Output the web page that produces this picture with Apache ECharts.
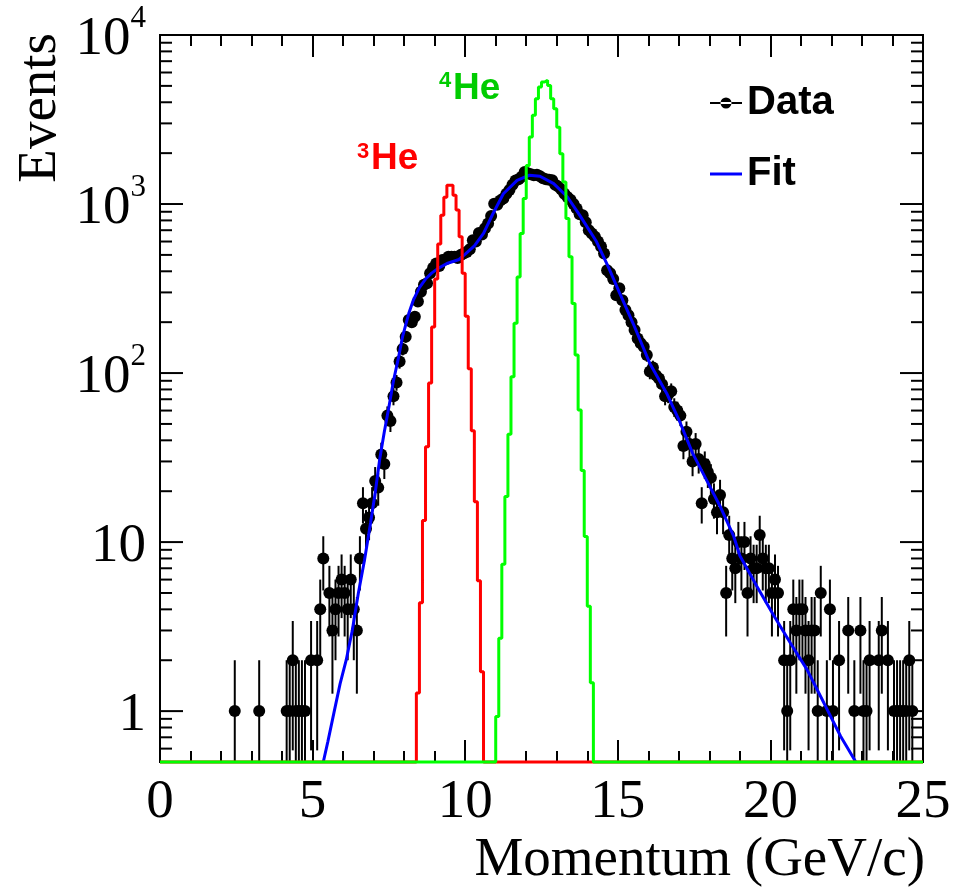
<!DOCTYPE html>
<html>
<head>
<meta charset="utf-8">
<script src="https://cdn.jsdelivr.net/npm/echarts@6/dist/echarts.min.js"></script>
<style>
  html, body { margin: 0; padding: 0; background: #ffffff; }
  #chart { width: 953px; height: 889px; }
</style>
</head>
<body>
<div id="chart"></div>
<script>
// Binning of the momentum histograms (GeV/c)
const xMin = 0;
const xMax = 25;
const binWidth = 0.1;
const yMin = 0.5;
const yMax = 10000;

// Measured events per 0.1 GeV/c bin, bins 0.0 ... 24.9
const dataCounts = [
  0, 0, 0, 0, 0, 0, 0, 0, 0, 0,
  0, 0, 0, 0, 0, 0, 0, 0, 0, 0,
  0, 0, 0, 0, 1, 0, 0, 0, 0, 0,
  0, 0, 1, 0, 0, 0, 0, 0, 0, 0,
  0, 1, 1, 2, 1, 1, 1, 1, 0, 2,
  0, 2, 4, 8, 0, 5, 3, 4, 5, 6,
  5, 4, 6, 4, 3, 8, 17, 12, 14, 17,
  23, 21, 33, 29, 56, 52, 73, 88, 117, 139,
  164, 206, 200, 215, 265, 303, 333, 340, 389, 420,
  445, 430, 466, 470, 488, 488, 487, 480, 500, 510,
  521, 540, 611, 600, 675, 660, 720, 767, 850, 1003,
  990, 1050, 1078, 1150, 1210, 1300, 1380, 1400, 1450, 1548,
  1520, 1500, 1480, 1490, 1460, 1420, 1400, 1390, 1383, 1300,
  1270, 1220, 1150, 1102, 1060, 1000, 940, 870, 859, 780,
  700, 670, 640, 600, 560, 510, 406, 389, 360, 289,
  317, 270, 236, 220, 200, 180, 160, 150, 143, 128,
  102, 108, 97, 93, 86, 73, 75, 78, 63, 60,
  56, 37, 45, 38, 30, 38, 31, 17, 29, 26,
  24, 18, 15, 19, 15, 5, 11, 8, 7, 10,
  8, 10, 5, 8, 7, 7, 11, 8, 7, 7,
  5, 6, 5, 0, 2, 1, 2, 4, 3, 4,
  4, 3, 2, 3, 3, 1, 5, 0, 1, 4,
  1, 0, 2, 0, 0, 3, 0, 1, 0, 3,
  1, 1, 2, 0, 0, 2, 3, 0, 2, 0,
  1, 1, 1, 1, 1, 2, 1, 0, 0, 0
];

// Fitted spectrum (momentum, events)
const fitMomentum = [5.35, 5.5, 5.7, 5.9, 6.1, 6.3, 6.5, 6.7, 6.9, 7.05, 7.2, 7.35, 7.5, 7.65, 7.8, 7.95,
  8.15, 8.3, 8.5, 8.7, 8.9, 9.1, 9.4, 9.8, 10.0, 10.3, 10.6, 10.9, 11.25, 11.7, 12.1, 12.45,
  12.9, 13.35, 13.75, 14.3, 14.7, 15.05, 15.5, 16.05, 16.6, 17.05, 17.45, 17.9, 18.35, 18.8,
  19.0, 19.55, 20.1, 20.65, 21.2, 21.75, 22.3, 22.8];
const fitEvents = [0.5, 0.66, 0.98, 1.45, 2.0, 3.0, 5.0, 7.8, 13, 19.5, 31, 45, 63, 90, 120, 165,
  225, 270, 320, 360, 390, 415, 445, 470, 505, 565, 670, 870, 1150, 1380, 1480, 1460,
  1320, 1100, 860, 600, 420, 300, 197, 114, 76, 50.5, 33.6, 23.4, 16.3, 10.8,
  8.3, 5.5, 3.7, 2.54, 1.76, 1.12, 0.71, 0.5];

// 3He template histogram, first bin starts at he3Start
const he3Start = 8.4;
const he3Counts = [1.28, 4.37, 13.4, 36.6, 87.4, 187, 360, 580, 859, 1096, 1291, 1291, 1127,
  921, 640, 389, 217, 106, 45.5, 17.3, 5.9, 1.71];

// 4He template histogram, first bin starts at he4Start
const he4Start = 11.0;
const he4Counts = [0.93, 2.7, 7.4, 18.6, 43.5, 95, 197, 370, 670, 1080, 1690, 2490, 3350, 4200,
  4920, 5270, 5390, 5030, 4200, 3660, 2850, 1985, 1350, 821, 487, 258, 128, 60.5, 26.5, 10.8,
  4.17, 1.47];

// Axis ticks
const xTickInterval = 5;
const yMajorTicks = [1, 10, 100, 1000, 10000];
const yMinorTicks = [0.6, 0.7, 0.8, 0.9, 2, 3, 4, 5, 6, 7, 8, 9, 20, 30, 40, 50, 60, 70, 80, 90,
  200, 300, 400, 500, 600, 700, 800, 900, 2000, 3000, 4000, 5000, 6000, 7000, 8000, 9000];

const serif = '"Liberation Serif", "Times New Roman", serif';
const sans = '"Liberation Sans", Arial, sans-serif';

const nBins = Math.round((xMax - xMin) / binWidth);
function binEdge(i) { return +(xMin + i * binWidth).toFixed(3); }

// Data points at bin centres, empty bins are not drawn on the log scale
const dataPoints = [];
dataCounts.forEach(function (n, i) {
  if (n > 0) dataPoints.push([+(binEdge(i) + binWidth / 2).toFixed(3), n]);
});

// Histogram outline; empty bins sit on the lower edge of the frame
function histogramOutline(start, counts) {
  const first = Math.round((start - xMin) / binWidth);
  const pts = [];
  for (let i = 0; i < nBins; i++) {
    const k = i - first;
    const v = (k >= 0 && k < counts.length) ? counts[k] : 0;
    pts.push([binEdge(i), v > 0 ? v : yMin]);
  }
  pts.push([xMax, pts[pts.length - 1][1]]);
  return pts;
}

const fitPoints = fitMomentum.map(function (p, i) { return [p, fitEvents[i]]; });
const yTickData = yMajorTicks.map(function (v) { return [0, v, 1]; })
  .concat(yMinorTicks.map(function (v) { return [0, v, 0]; }));

function yLabel(value) {
  const e = Math.round(Math.log10(value));
  if (Math.abs(Math.log10(value) - e) > 1e-6 || e < 0) return '';
  if (e === 0) return '{b|1}';
  if (e === 1) return '{b|10}';
  return '{b|10}{s|' + e + '}';
}

const chart = echarts.init(document.getElementById('chart'), null, { renderer: 'canvas' });

const option = {
  animation: false,
  backgroundColor: '#ffffff',
  grid: {
    left: 160, right: 30, top: 35, bottom: 127,
    show: true, borderColor: '#000', borderWidth: 2, backgroundColor: 'transparent',
    containLabel: false, outerBoundsMode: 'none'
  },
  xAxis: [{
    type: 'value', min: xMin, max: xMax, interval: xTickInterval, position: 'bottom',
    axisLine: { show: false },
    splitLine: { show: false },
    axisTick: { show: true, inside: true, length: 22, lineStyle: { color: '#000', width: 2 } },
    minorTick: { show: true, splitNumber: 5, length: 11, lineStyle: { color: '#000', width: 2 } },
    minorSplitLine: { show: false },
    axisLabel: { show: true, margin: 13, fontFamily: serif, fontSize: 55, color: '#000' }
  }, {
    type: 'value', min: xMin, max: xMax, interval: xTickInterval, position: 'top',
    axisLine: { show: false },
    splitLine: { show: false },
    axisTick: { show: true, inside: true, length: 22, lineStyle: { color: '#000', width: 2 } },
    minorTick: { show: true, splitNumber: 5, length: 11, lineStyle: { color: '#000', width: 2 } },
    axisLabel: { show: false }
  }],
  yAxis: [{
    type: 'log', logBase: 10, min: yMin, max: yMax,
    axisLine: { show: false },
    splitLine: { show: false },
    axisTick: { show: false },
    minorTick: { show: false },
    axisLabel: {
      show: true, margin: 14, color: '#000',
      formatter: yLabel,
      rich: {
        b: { fontFamily: serif, fontSize: 55, lineHeight: 64, verticalAlign: 'bottom', color: '#000' },
        s: { fontFamily: serif, fontSize: 31, lineHeight: 31, verticalAlign: 'top', color: '#000' }
      }
    }
  }],
  legend: {
    orient: 'vertical', left: 710, top: 83, padding: 0,
    itemWidth: 32, itemHeight: 11, itemGap: 31,
    selectedMode: false,
    itemStyle: { borderWidth: 0 },
    textStyle: { fontFamily: sans, fontWeight: 'bold', fontSize: 40, lineHeight: 40, color: '#000' },
    data: [
      { name: 'Data', icon: 'path://M0,4.6L32,4.6L32,6.4L0,6.4Z M10.5,5.5A5.5,5.5 0 1 0 21.5,5.5A5.5,5.5 0 1 0 10.5,5.5Z' },
      { name: 'Fit', icon: 'path://M0,4L32,4L32,7L0,7Z' }
    ]
  },
  graphic: [
    { type: 'text', z: 10, x: 41, y: 33, rotation: Math.PI / 2,
      style: { text: 'Events', x: 0, y: 0, align: 'right', verticalAlign: 'middle',
        font: '55px ' + serif, fill: '#000' } },
    { type: 'text', z: 10, style: { text: 'Momentum (GeV/c)', x: 925, y: 861, align: 'right', verticalAlign: 'middle',
      font: '55px ' + serif, fill: '#000' } },
    { type: 'text', z: 10, style: { text: '3', x: 357, y: 152, align: 'left', verticalAlign: 'middle',
      font: 'bold 22px ' + sans, fill: '#ff0000' } },
    { type: 'text', z: 10, style: { text: 'He', x: 371, y: 159, align: 'left', verticalAlign: 'middle',
      font: 'bold 37px ' + sans, fill: '#ff0000' } },
    { type: 'text', z: 10, style: { text: '4', x: 439, y: 81, align: 'left', verticalAlign: 'middle',
      font: 'bold 22px ' + sans, fill: '#00cc00' } },
    { type: 'text', z: 10, style: { text: 'He', x: 453, y: 89, align: 'left', verticalAlign: 'middle',
      font: 'bold 37px ' + sans, fill: '#00cc00' } }
  ],
  series: [
    {
      name: 'Data errors', type: 'custom', z: 2, silent: true,
      data: dataPoints,
      renderItem: function (params, api) {
        const x = api.value(0);
        const n = api.value(1);
        const err = Math.sqrt(n);
        const lo = Math.max(n - err, yMin);
        const hi = Math.min(n + err, yMax);
        const p1 = api.coord([x, lo]);
        const p2 = api.coord([x, hi]);
        return { type: 'line', shape: { x1: p1[0], y1: p1[1], x2: p2[0], y2: p2[1] },
          style: { stroke: '#000', lineWidth: 2 } };
      }
    },
    {
      name: 'Data', type: 'scatter', z: 3, data: dataPoints,
      symbol: 'circle', symbolSize: 12,
      itemStyle: { color: '#000', opacity: 1 }
    },
    {
      name: 'Fit', type: 'line', z: 4, data: fitPoints,
      showSymbol: false, symbol: 'none', clip: true,
      itemStyle: { color: '#0000ff' },
      lineStyle: { color: '#0000ff', width: 3 }
    },
    {
      name: '3He', type: 'line', z: 5, step: 'end', data: histogramOutline(he3Start, he3Counts),
      showSymbol: false, symbol: 'none', clip: false,
      itemStyle: { color: '#ff0000' },
      lineStyle: { color: '#ff0000', width: 3 }
    },
    {
      name: '4He', type: 'line', z: 6, step: 'end', data: histogramOutline(he4Start, he4Counts),
      showSymbol: false, symbol: 'none', clip: false,
      itemStyle: { color: '#00ff00' },
      lineStyle: { color: '#00ff00', width: 3 }
    },
    {
      name: 'Y ticks', type: 'custom', z: 7, silent: true, clip: false,
      data: yTickData,
      renderItem: function (params, api) {
        const cs = params.coordSys;
        const y = api.coord([0, api.value(1)])[1];
        const len = api.value(2) ? 23 : 12;
        const st = { stroke: '#000', lineWidth: 2 };
        return { type: 'group', children: [
          { type: 'line', shape: { x1: cs.x, y1: y, x2: cs.x + len, y2: y }, style: st },
          { type: 'line', shape: { x1: cs.x + cs.width - len, y1: y, x2: cs.x + cs.width, y2: y }, style: st }
        ] };
      }
    }
  ]
};

chart.setOption(option);
</script>
</body>
</html>
